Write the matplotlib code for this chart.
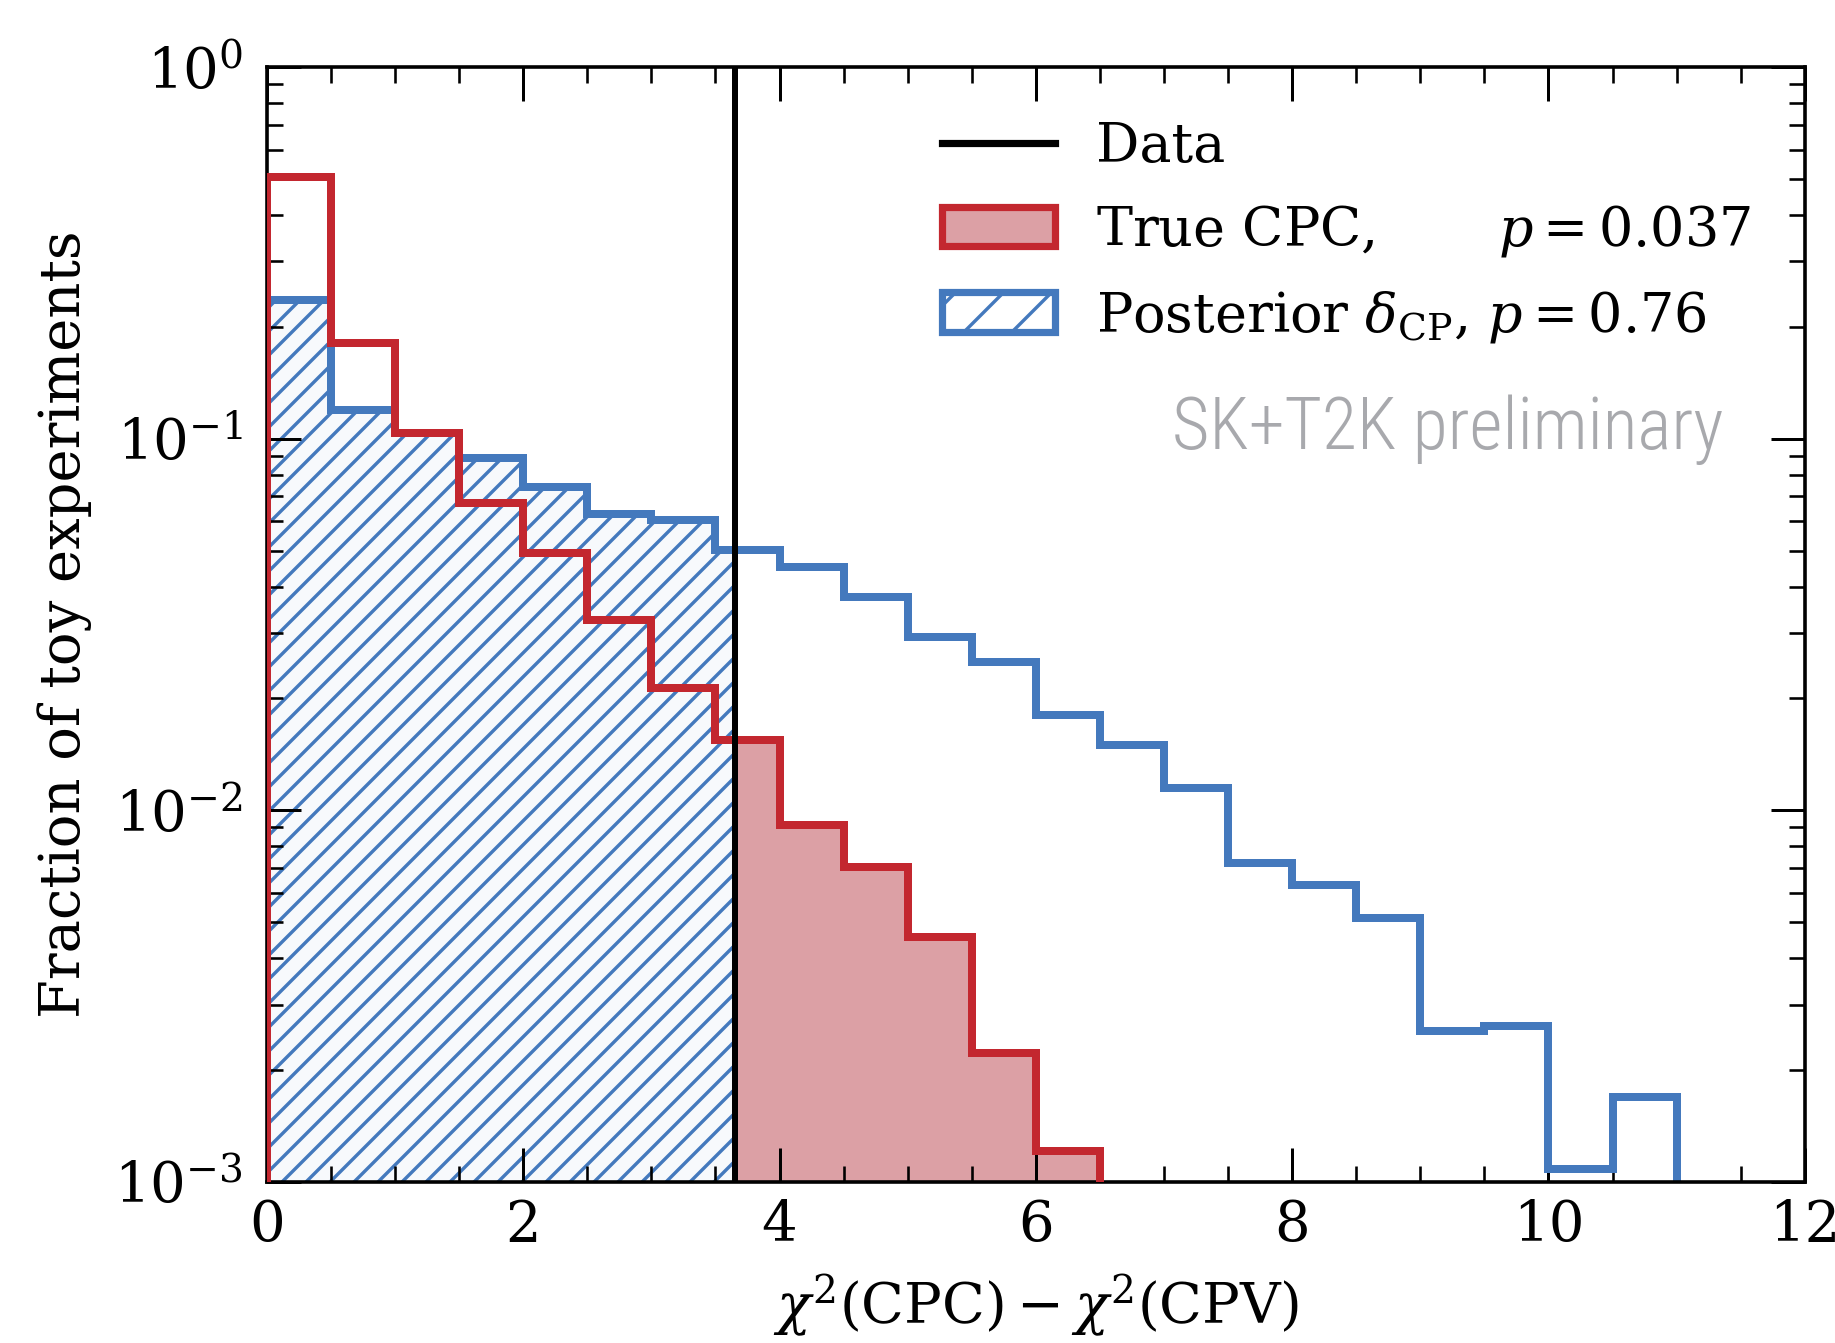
import numpy as np
import matplotlib
matplotlib.use("Agg")
import matplotlib.pyplot as plt
from matplotlib import font_manager
from matplotlib.patches import Patch
from matplotlib.lines import Line2D
from matplotlib.ticker import MultipleLocator, LogLocator

# Гистограммы (доли toy-экспериментов), бины по 0.5
edges_cpc = np.arange(0, 6.51, 0.5)
frac_cpc = [0.506, 0.181, 0.1035, 0.0670, 0.0491, 0.0325, 0.0213,
            0.0155, 0.0091, 0.00705, 0.00457, 0.00222, 0.00121]

edges_post = np.arange(0, 11.01, 0.5)
frac_post = [0.236, 0.1193, 0.1035, 0.0885, 0.0741, 0.0629, 0.0604, 0.0503,
             0.0452, 0.0376, 0.0293, 0.0251, 0.0180, 0.0150, 0.01146, 0.0072,
             0.0063, 0.00513, 0.00254, 0.00263, 0.00108, 0.00169]

data_value = 3.65

label_data = "Data"
label_cpc = "True CPC,       $p = 0.037$"
label_post = r"Posterior $\delta_{\rm CP}$, $p = 0.76$"
watermark = "SK+T2K preliminary"

red = "#c3272f"
red_fill = "#dca0a5"
blue = "#4479bd"

plt.rcParams["font.family"] = "DejaVu Serif"
plt.rcParams["mathtext.fontset"] = "dejavuserif"
plt.rcParams["hatch.linewidth"] = 1.7

# узкий шрифт для надписи, если есть
installed = {f.name for f in font_manager.fontManager.ttflist}
wm_font, wm_size = "Roboto", 30
for name in ["Roboto Condensed", "Liberation Sans Narrow", "Open Sans Condensed",
             "DejaVu Sans Condensed"]:
    if name in installed:
        wm_font, wm_size = name, 36
        break

fig = plt.figure(figsize=(1835 / 144, 1343 / 144), dpi=144)
ax = fig.add_axes([0.1455, 0.12, 0.838, 0.830])

ax.set_yscale("log")
ax.set_xlim(0, 12)
ax.set_ylim(1e-3, 1)

# заливки: штриховка слева от данных, красная область справа
e = np.asarray(edges_post)
k = np.searchsorted(e, data_value)
xe = np.concatenate([e[:k], [data_value]])
yv = np.asarray(frac_post)[:k]
ax.stairs(yv, xe, baseline=1e-5, fill=True, facecolor="#f7f9fc",
          edgecolor=blue, hatch="//", linewidth=0, zorder=1)

e = np.asarray(edges_cpc)
k = np.searchsorted(e, data_value)
xe = np.concatenate([[data_value], e[k:]])
yv = np.asarray(frac_cpc)[k - 1:]
ax.stairs(yv, xe, baseline=1e-5, fill=True, facecolor=red_fill,
          linewidth=0, zorder=1)

ax.stairs(frac_post, edges_post, baseline=1e-5, color=blue, linewidth=4.0, zorder=2)
ax.stairs(frac_cpc, edges_cpc, baseline=1e-5, color=red, linewidth=4.0, zorder=3)
ax.axvline(data_value, color="black", linewidth=3.0, zorder=4)

ax.xaxis.set_major_locator(MultipleLocator(2))
ax.xaxis.set_minor_locator(MultipleLocator(0.5))
ax.yaxis.set_major_locator(LogLocator(base=10, numticks=10))
ax.yaxis.set_minor_locator(LogLocator(base=10, subs=np.arange(2, 10), numticks=10))
ax.tick_params(which="both", direction="in", top=True, right=True, labelsize=28)
ax.tick_params(which="major", length=17, width=1.5)
ax.tick_params(which="minor", length=8, width=1.3)
ax.tick_params(axis="x", which="major", pad=8)
ax.tick_params(axis="y", which="major", pad=12)
for s in ax.spines.values():
    s.set_linewidth(1.8)

ax.set_xlabel(r"$\chi^2(\mathrm{CPC}) - \chi^2(\mathrm{CPV})$", fontsize=28, labelpad=10)
ax.set_ylabel("Fraction of toy experiments", fontsize=28, labelpad=11)

handles = [
    Line2D([], [], color="black", linewidth=3.6),
    Patch(facecolor=red_fill, edgecolor=red, linewidth=3.6),
    Patch(facecolor="white", edgecolor=blue, hatch="/", linewidth=3.6),
]
ax.legend(handles, [label_data, label_cpc, label_post], loc="upper right",
          frameon=False, fontsize=27, handlelength=2.1, handleheight=0.75,
          handletextpad=0.75, labelspacing=0.55, borderaxespad=0.6)

ax.text(0.947, 0.657, watermark, transform=ax.transAxes,
        ha="right", va="baseline", color="#a8a9ad", fontsize=wm_size,
        family=[wm_font, "DejaVu Sans"], fontweight="light")

fig.savefig("out.png", dpi=144)
